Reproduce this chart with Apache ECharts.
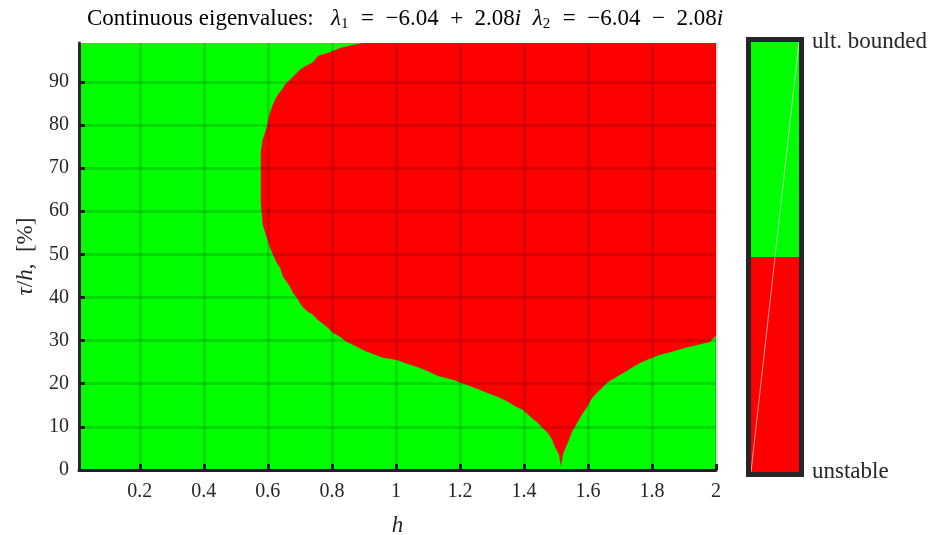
<!DOCTYPE html>
<html>
<head>
<meta charset="utf-8">
<script src="https://cdn.jsdelivr.net/npm/echarts@6/dist/echarts.min.js"></script>
<style>html,body{margin:0;padding:0;background:#fff}#c{width:939px;height:535px}</style>
</head>
<body>
<div id="c"></div>
<script>
// ---- data ----
const xTickValues = [0.2, 0.4, 0.6, 0.8, 1, 1.2, 1.4, 1.6, 1.8, 2];
const yTickValues = [0, 10, 20, 30, 40, 50, 60, 70, 80, 90];
// boundary of the unstable (red) region, traced from top-left, down, along the lower edge and up the right branch
const boundaryH = [0.894, 0.828, 0.791, 0.759, 0.738, 0.719, 0.700, 0.684, 0.669, 0.653, 0.644, 0.631, 0.622, 0.613, 0.603, 0.597, 0.584, 0.578,
  0.578, 0.584, 0.597, 0.606, 0.616, 0.628, 0.638, 0.647, 0.659, 0.669, 0.678, 0.691, 0.700, 0.709, 0.725, 0.741, 0.756, 0.772, 0.788, 0.803,
  0.825, 0.847, 0.872, 0.897, 0.928, 0.959, 1.003, 1.028, 1.066, 1.097, 1.131, 1.178, 1.222, 1.247, 1.284, 1.319, 1.350, 1.372, 1.397, 1.413,
  1.428, 1.444, 1.459, 1.475, 1.488, 1.497, 1.509, 1.516, 1.522, 1.531, 1.541, 1.550, 1.566, 1.581, 1.597, 1.613, 1.628, 1.644, 1.659, 1.675,
  1.694, 1.716, 1.741, 1.763, 1.794, 1.825, 1.863, 1.903, 1.941, 1.981, 2.0, 2.0];
const boundaryTau = [99, 97.9, 96.8, 96.1, 94.4, 93.7, 92.8, 91.6, 90.5, 89.3, 88.2, 87.0, 85.8, 84.2, 81.9, 79.6, 76.6, 73.8,
  61.9, 56.8, 53.8, 51.7, 49.9, 48.0, 46.9, 44.8, 43.6, 42.5, 41.1, 39.9, 38.7, 37.8, 36.7, 36.0, 34.8, 33.9, 32.9, 31.8,
  30.9, 29.7, 28.8, 27.8, 26.9, 26.0, 25.5, 24.8, 23.9, 23.0, 21.8, 20.9, 19.7, 19.0, 17.9, 16.9, 15.8, 14.8, 13.9, 12.8,
  11.8, 10.9, 9.7, 8.6, 7.0, 5.3, 3.7, 0.7, 3.7, 5.3, 7.0, 8.8, 10.9, 12.8, 14.6, 16.7, 17.9, 19.0, 20.2, 20.9,
  21.8, 22.7, 23.9, 24.8, 25.8, 26.7, 27.4, 28.3, 29.0, 29.7, 31.1, 99];
const colorbarLabels = ['unstable', 'ult. bounded'];
const colorbarColors = ['#ff0000', '#00ff00'];
const hRange = [0.01, 2];
const tauRange = [0, 99];

const INK = '#262626';
const SERIF = '"Liberation Serif", "DejaVu Serif", serif';

const chart = echarts.init(document.getElementById('c'), null, {renderer: 'canvas'});

const gridLines = xTickValues.map(v => ({xAxis: v})).concat(yTickValues.map(v => ({yAxis: v})));

const option = {
  animation: false,
  backgroundColor: '#ffffff',
  title: {
    left: 400, top: 1, textAlign: 'center',
    text: '{r|Continuous eigenvalues:   }{i|λ}{s|1}{r|  =  −6.04  +  2.08}{i|i}{r|  }{i|λ}{s|2}{r|  =  −6.04  −  2.08}{i|i}',
    textStyle: {
      fontWeight: 'normal',
      rich: {
        r: {fontFamily: SERIF, fontSize: 23, fontWeight: 'normal', color: '#000'},
        i: {fontFamily: SERIF, fontSize: 23, fontWeight: 'normal', fontStyle: 'italic', color: '#000'},
        s: {fontFamily: SERIF, fontSize: 15, fontWeight: 'normal', color: '#000', padding: [11, 1, 0, 0]}
      }
    }
  },
  grid: [
    {left: 79, top: 43, width: 637, height: 427, show: true, backgroundColor: colorbarColors[1], borderWidth: 0,
      containLabel: false, outerBoundsMode: 'none'},
    {left: 751, top: 42, width: 48, height: 430, show: false, containLabel: false, outerBoundsMode: 'none'}
  ],
  xAxis: [
    {
      type: 'value', gridIndex: 0, min: hRange[0], max: hRange[1],
      name: '{i|h}', nameLocation: 'middle', nameGap: 44,
      nameTextStyle: {rich: {i: {fontFamily: SERIF, fontSize: 23, fontStyle: 'italic', color: INK}}},
      axisLine: {show: true, onZero: false, lineStyle: {color: INK, width: 3}},
      axisTick: {show: true, inside: true, length: 6, customValues: xTickValues, lineStyle: {color: INK, width: 3}},
      axisLabel: {show: true, customValues: xTickValues, margin: 12, fontFamily: SERIF, fontSize: 20, color: INK,
        formatter: v => String(+v.toFixed(2))},
      splitLine: {show: false}
    },
    {type: 'value', gridIndex: 1, min: 0, max: 1, show: false}
  ],
  yAxis: [
    {
      type: 'value', gridIndex: 0, min: tauRange[0], max: tauRange[1],
      name: '{i|τ}{r|/}{i|h}{r|,  [%]}', nameLocation: 'middle', nameGap: 42, nameRotate: 90,
      nameTextStyle: {rich: {
        i: {fontFamily: SERIF, fontSize: 23, fontStyle: 'italic', color: INK},
        r: {fontFamily: SERIF, fontSize: 23, color: INK}}},
      axisLine: {show: true, onZero: false, lineStyle: {color: INK, width: 3}},
      axisTick: {show: true, inside: true, length: 6, customValues: yTickValues, lineStyle: {color: INK, width: 3}},
      axisLabel: {show: true, customValues: yTickValues, margin: 10, fontFamily: SERIF, fontSize: 20, color: INK},
      splitLine: {show: false}
    },
    {
      type: 'value', gridIndex: 1, min: 0, max: 1, position: 'right',
      axisLine: {show: false}, axisTick: {show: false}, splitLine: {show: false},
      axisLabel: {show: true, customValues: [0, 1], margin: 13, fontFamily: SERIF, fontSize: 23, color: INK,
        formatter: v => colorbarLabels[Math.round(v)]}
    }
  ],
  series: [
    {
      type: 'custom', xAxisIndex: 0, yAxisIndex: 0, clip: true, silent: true,
      data: [[hRange[0], tauRange[0]]],
      renderItem: function (params, api) {
        const pts = boundaryH.map((h, k) => api.coord([h, boundaryTau[k]]));
        return {type: 'polygon', shape: {points: pts}, style: {fill: colorbarColors[0], stroke: null}};
      },
      markLine: {
        silent: true, symbol: ['none', 'none'], label: {show: false},
        lineStyle: {color: 'rgba(0,0,0,0.14)', width: 3, type: 'solid'},
        emphasis: {disabled: true},
        data: gridLines
      },
      z: 2
    },
    {
      type: 'custom', xAxisIndex: 1, yAxisIndex: 1, silent: true,
      data: [[0, 0]],
      renderItem: function (params, api) {
        const p00 = api.coord([0, 0]), p11 = api.coord([1, 1]), pm = api.coord([1, 0.5]);
        const x0 = p00[0], x1 = p11[0], yb = p00[1], yt = p11[1], ym = pm[1];
        return {type: 'group', children: [
          {type: 'rect', shape: {x: x0, y: yt, width: x1 - x0, height: ym - yt}, style: {fill: colorbarColors[1]}},
          {type: 'rect', shape: {x: x0, y: ym, width: x1 - x0, height: yb - ym}, style: {fill: colorbarColors[0]}},
          {type: 'line', shape: {x1: x0, y1: yb, x2: x1, y2: yt}, style: {stroke: 'rgba(255,255,255,0.6)', lineWidth: 1}},
          {type: 'rect', shape: {x: x0 - 2.5, y: yt - 2.5, width: x1 - x0 + 5, height: yb - yt + 5}, style: {fill: null, stroke: INK, lineWidth: 5}}
        ]};
      }
    }
  ]
};
chart.setOption(option);
</script>
</body>
</html>
